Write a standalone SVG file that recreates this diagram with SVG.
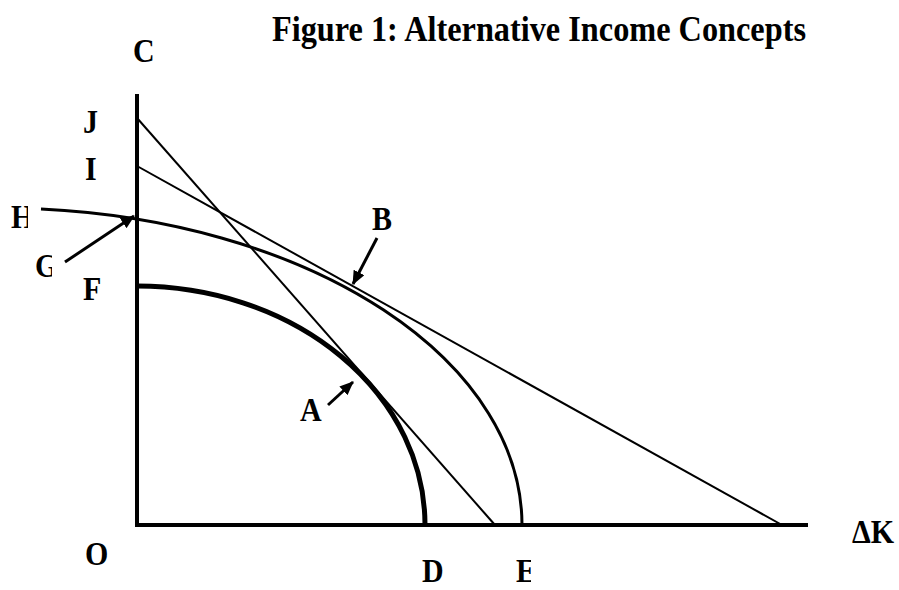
<svg xmlns="http://www.w3.org/2000/svg" width="899" height="590" viewBox="0 0 899 590">
  <style>
    .lbl { font-family: "Liberation Serif", "Times New Roman", serif; font-weight: bold; font-size: 30px; fill: #000; }
    .title { font-family: "Liberation Serif", "Times New Roman", serif; font-weight: bold; font-size: 32px; fill: #000; }
    .axis { stroke: #000; stroke-width: 4; fill: none; }
    .thin { stroke: #000; stroke-width: 2; fill: none; }
    .arrow { stroke: #000; stroke-width: 3; fill: none; marker-end: url(#ah); }
  </style>
  <defs>
    <marker id="ah" markerUnits="userSpaceOnUse" markerWidth="14" markerHeight="12" viewBox="0 0 14 12" refX="13" refY="6" orient="auto">
      <path d="M0,0 L14,6 L0,12 z" fill="#000"/>
    </marker>
    <clipPath id="clipH"><rect x="0" y="190" width="28" height="50"/></clipPath>
    <clipPath id="clipG"><rect x="30" y="240" width="22" height="50"/></clipPath>
    <clipPath id="clipE"><rect x="500" y="550" width="31" height="40"/></clipPath>
  </defs>
  <rect width="899" height="590" fill="#fff"/>

  <text class="title" transform="translate(272,41) scale(1,1.15)" textLength="534" lengthAdjust="spacingAndGlyphs">Figure 1: Alternative Income Concepts</text>

  <g id="axes">
    <line class="axis" x1="137" y1="94" x2="137" y2="527"/>
    <line class="axis" x1="135" y1="525" x2="808" y2="525"/>
  </g>

  <g id="curves">
    <path d="M41,209 A522,317 0 0 1 522,525" stroke="#000" stroke-width="3" fill="none"/>
    <path d="M137,286 A288,239 0 0 1 425,525" stroke="#000" stroke-width="5" fill="none"/>
  </g>

  <g id="connectors">
    <line class="thin" x1="137" y1="118" x2="495" y2="525"/>
    <line class="thin" x1="137" y1="166" x2="782" y2="525"/>
    <line class="arrow" x1="65" y1="262" x2="134" y2="216"/>
    <line class="arrow" x1="377" y1="238" x2="353" y2="284"/>
    <line class="arrow" x1="328" y1="405" x2="353" y2="382"/>
  </g>

  <g id="labels">
    <text class="lbl" transform="translate(133,62) scale(1,1.15)">C</text>
    <text class="lbl" transform="translate(83,133) scale(1,1.15)">J</text>
    <text class="lbl" transform="translate(85,180) scale(1,1.15)">I</text>
    <g clip-path="url(#clipH)"><text class="lbl" transform="translate(11,228) scale(1,1.15)">H</text></g>
    <g clip-path="url(#clipG)"><text class="lbl" transform="translate(35,277) scale(1,1.15)">G</text></g>
    <text class="lbl" transform="translate(83,300) scale(1,1.15)">F</text>
    <text class="lbl" transform="translate(372,230) scale(1,1.15)">B</text>
    <text class="lbl" transform="translate(300,421) scale(1,1.15)">A</text>
    <text class="lbl" transform="translate(85,565) scale(1,1.15)">O</text>
    <text class="lbl" transform="translate(422,582) scale(1,1.15)">D</text>
    <g clip-path="url(#clipE)"><text class="lbl" transform="translate(516,582) scale(1,1.15)">E</text></g>
    <text class="lbl" transform="translate(852,543) scale(1,1.15)">ΔK</text>
  </g>
</svg>
